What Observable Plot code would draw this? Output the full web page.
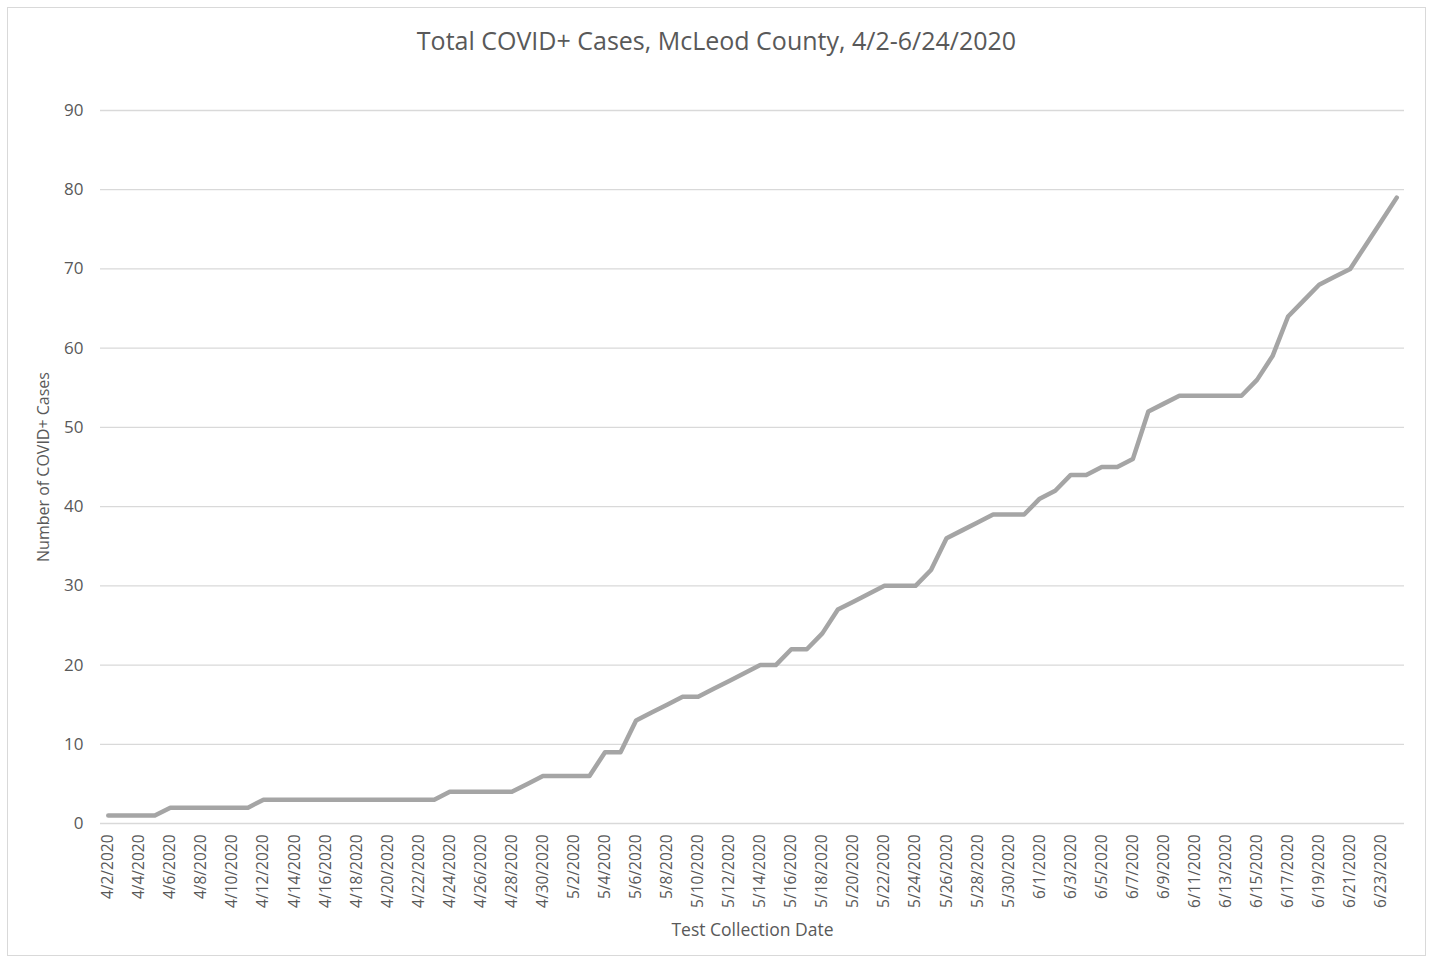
<!DOCTYPE html>
<html>
<head>
<meta charset="utf-8">
<script src="https://cdn.jsdelivr.net/npm/d3@7"></script>
<script src="https://cdn.jsdelivr.net/npm/@observablehq/plot@0.6"></script>
<style>
  html, body { margin: 0; padding: 0; background: #fff; }
  body { width: 1429px; height: 960px; position: relative; overflow: hidden; font-family: "Open Sans", sans-serif; }
  #frame { position: absolute; left: 7px; top: 7px; width: 1419px; height: 949px; border: 1px solid #d9d9d9; box-sizing: border-box; pointer-events: none; }
  #title { position: absolute; left: 0; top: 0; width: 1433px; height: 75px; text-align: center; line-height: 80px; font-size: 25px; color: #595959; }
  #chart { position: absolute; left: 0; top: 75px; }
</style>
</head>
<body>
<div id="title"></div>
<div id="chart"></div>
<div id="frame"></div>
<script>
// Data: cumulative COVID+ cases by test collection date, 4/2/2020 – 6/24/2020
const startDate = "2020-04-02";
const cases = [
  1, 1, 1, 1, 2, 2, 2, 2, 2, 2,          // 4/2 – 4/11
  3, 3, 3, 3, 3, 3, 3, 3, 3, 3, 3, 3,    // 4/12 – 4/23
  4, 4, 4, 4, 4, 5,                      // 4/24 – 4/29
  6, 6, 6, 6,                            // 4/30 – 5/3
  9, 9, 13, 14, 15, 16, 16, 17, 18, 19,  // 5/4 – 5/13
  20, 20, 22, 22, 24, 27, 28, 29, 30, 30, // 5/14 – 5/23
  30, 32, 36, 37, 38, 39, 39, 39,        // 5/24 – 5/31
  41, 42, 44, 44, 45, 45, 46, 52, 53,    // 6/1 – 6/9
  54, 54, 54, 54, 54,                    // 6/10 – 6/14
  56, 59, 64, 66, 68, 69, 70, 73, 76, 79 // 6/15 – 6/24
];
const yTicks = [0, 10, 20, 30, 40, 50, 60, 70, 80, 90];
const titleText = "Total COVID+ Cases, McLeod County, 4/2-6/24/2020";
const xLabel = "Test Collection Date";
const yLabel = "Number of COVID+ Cases";

const fmt = d => `${d.getUTCMonth() + 1}/${d.getUTCDate()}/${d.getUTCFullYear()}`;
const start = new Date(startDate + "T00:00:00Z");
const dates = cases.map((_, i) => fmt(d3.utcDay.offset(start, i)));
const data = dates.map((date, i) => ({date, value: cases[i]}));
const xTicks = dates.filter((_, i) => i % 2 === 0);

document.getElementById("title").textContent = titleText;

const textColor = "#595959";
const chart = Plot.plot({
  width: 1429,
  height: 885,
  marginTop: 35,
  marginBottom: 137,
  marginLeft: 100,
  marginRight: 25,
  style: { fontFamily: "Open Sans, sans-serif", color: textColor, background: "transparent", overflow: "visible" },
  x: { type: "point", domain: dates, padding: 0.5 },
  y: { domain: [0, 90] },
  marks: [
    Plot.ruleY(yTicks, { stroke: "#d9d9d9", strokeWidth: 1.3 }),
    Plot.axisY(yTicks, {
      tickSize: 0, tickPadding: 17, fontSize: 17, fill: textColor,
      label: yLabel, labelAnchor: "center", labelArrow: "none", labelOffset: 63
    }),
    Plot.axisX(xTicks, {
      tickSize: 0, tickPadding: 11, tickRotate: -90, fontSize: 15.5, fill: textColor,
      label: xLabel, labelAnchor: "center", labelArrow: "none", labelOffset: 112
    }),
    Plot.line(data, {
      x: "date", y: "value", stroke: "#a5a5a5", strokeWidth: 4.5,
      strokeLinejoin: "round", strokeLinecap: "round"
    })
  ]
});
const setSize = (sel, size) => chart.querySelectorAll(sel).forEach(el => el.setAttribute("font-size", size));
setSize("g[aria-label='y-axis tick label'], g[aria-label='y-axis tick label'] text", "17");
setSize("g[aria-label='x-axis tick label'], g[aria-label='x-axis tick label'] text", "15.5");
setSize("g[aria-label='y-axis label'], g[aria-label='y-axis label'] text", "16");
setSize("g[aria-label='x-axis label'], g[aria-label='x-axis label'] text", "17.5");
document.getElementById("chart").appendChild(chart);
</script>
</body>
</html>
